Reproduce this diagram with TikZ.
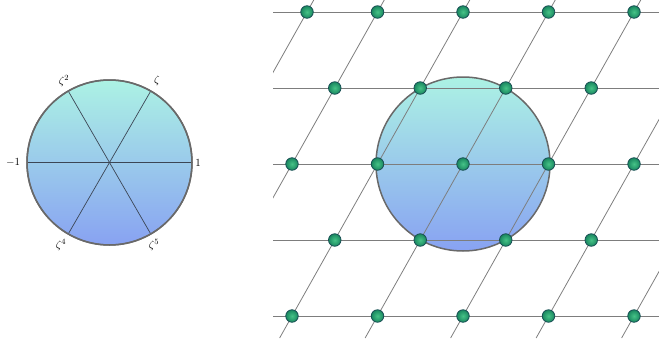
\documentclass[tikz,border=0pt]{standalone}
\usetikzlibrary{calc}
\definecolor{diskTop}{RGB}{172,242,228}
\definecolor{diskBot}{RGB}{136,162,242}
\definecolor{rimgray}{RGB}{105,105,105}
\definecolor{spokec}{RGB}{60,70,85}
\definecolor{lattc}{RGB}{125,125,125}
\definecolor{ballin}{RGB}{70,195,135}
\definecolor{ballout}{RGB}{25,135,95}
\definecolor{balledge}{RGB}{25,80,85}
\begin{document}
\begin{tikzpicture}[x=1pt,y=-1pt,
  disk/.style={draw=rimgray,line width=1.5pt,top color=diskTop,bottom color=diskBot},
  spoke/.style={draw=spokec,line width=0.7pt},
  latt/.style={draw=lattc,line width=0.8pt},
  pt/.style={circle,inner sep=0pt,minimum size=12.5pt,inner color=ballin,outer color=ballout,draw=balledge,line width=0.8pt},
  lbl/.style={font=\fontsize{11}{13}\selectfont,inner sep=0pt}]
\useasboundingbox (0,0) rectangle (659,338);
% left unit circle
\coordinate (C) at (109.5,162.5);
\draw[disk] (C) circle (82.5);
\coordinate (z0) at ($(C)+(82.5,0)$);
\coordinate (z1) at ($(C)+(41.25,-71.45)$);
\coordinate (z2) at ($(C)+(-41.25,-71.45)$);
\coordinate (z3) at ($(C)+(-82.5,0)$);
\coordinate (z4) at ($(C)+(-41.25,71.45)$);
\coordinate (z5) at ($(C)+(41.25,71.45)$);
\draw[spoke] (z0) -- (z3);
\draw[spoke] (z1) -- (z4);
\draw[spoke] (z2) -- (z5);
\draw[rimgray,line width=1.5pt] (C) circle (82.5);
\node[lbl] (l0) at (198,162.5) {$1$};
\node[lbl] (l1) at (157,81) {$\zeta$};
\node[lbl] (l2) at (64,81) {$\zeta^2$};
\node[lbl] (l3) at (13,162.5) {$-1$};
\node[lbl] (l4) at (61,245) {$\zeta^4$};
\node[lbl] (l5) at (154,245) {$\zeta^5$};
% right: disk and lattice
\coordinate (O) at (463,164);
\draw[disk] (O) circle (87);
\begin{scope}
\clip (273,0) rectangle (659,338);
\foreach \xo in {221.5,292,377.5,463,548.5,634,719.5}
  \draw[latt] (\xo+92.25,0) -- (\xo-97.875,338);
\end{scope}
\foreach \yy in {12,88,164,240,316}
  \draw[latt] (273,\yy) -- (659,\yy);
\foreach \x [count=\i] in {307,377.5,463,548.5,634}
  \node[pt] (a\i) at (\x,12) {};
\foreach \x [count=\i] in {334.75,420.25,505.75,591.25}
  \node[pt] (b\i) at (\x,88) {};
\foreach \x [count=\i] in {292,377.5,463,548.5,634}
  \node[pt] (c\i) at (\x,164) {};
\foreach \x [count=\i] in {334.75,420.25,505.75,591.25}
  \node[pt] (d\i) at (\x,240) {};
\foreach \x [count=\i] in {292,377.5,463,548.5,634}
  \node[pt] (e\i) at (\x,316) {};
\end{tikzpicture}
\end{document}
